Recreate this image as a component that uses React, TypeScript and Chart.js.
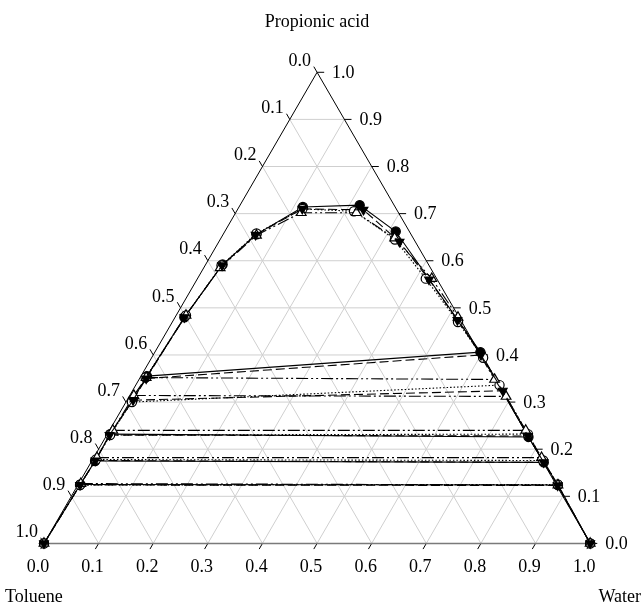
import React, { useEffect, useRef } from "react";
import { Chart, registerables } from "chart.js";
Chart.register(...registerables);

// ---- axis / grid values ----
const gridValues = [0.1, 0.2, 0.3, 0.4, 0.5, 0.6, 0.7, 0.8, 0.9];
const tickValues = [0, 0.1, 0.2, 0.3, 0.4, 0.5, 0.6, 0.7, 0.8, 0.9, 1.0];
const tickLabels = ["0.0", "0.1", "0.2", "0.3", "0.4", "0.5", "0.6", "0.7", "0.8", "0.9", "1.0"];
const topComponent = "Propionic acid";
const leftComponent = "Toluene";
const rightComponent = "Water";

// ---- series (mass fractions: water, propionic acid) ----
// Series A: filled circles, solid line
const seriesAWater = [0, 0.004, 0.006, 0.005, 0.010, 0.011, 0.017, 0.031, 0.061, 0.117, 0.219, 0.313, 0.596, 0.774, 0.829, 0.879, 1];
const seriesAAcid = [0, 0.125, 0.175, 0.232, 0.305, 0.355, 0.480, 0.592, 0.656, 0.714, 0.718, 0.662, 0.406, 0.226, 0.172, 0.124, 0];
const tieA = [[5, 12], [3, 13], [2, 14], [1, 15]];

// Series B: open circles, dotted line
const seriesBWater = [0, 0.004, 0.006, 0.006, 0.011, 0.010, 0.018, 0.030, 0.060, 0.118, 0.215, 0.320, 0.418, 0.523, 0.607, 0.666, 0.770, 0.826, 0.878, 1];
const seriesBAcid = [0, 0.124, 0.178, 0.230, 0.300, 0.352, 0.484, 0.590, 0.658, 0.710, 0.705, 0.645, 0.562, 0.470, 0.394, 0.336, 0.232, 0.176, 0.125, 0];
const tieB = [[4, 15], [3, 16], [2, 17], [1, 18]];

// Series C: open triangles, dash-dot-dot line
const seriesCWater = [0, 0.004, 0.006, 0.006, 0.0075, 0.011, 0.018, 0.030, 0.062, 0.120, 0.221, 0.318, 0.429, 0.518, 0.651, 0.690, 0.762, 0.820, 0.879, 1];
const seriesCAcid = [0, 0.127, 0.182, 0.240, 0.314, 0.352, 0.484, 0.585, 0.654, 0.702, 0.702, 0.648, 0.562, 0.480, 0.348, 0.312, 0.240, 0.182, 0.124, 0];
const tieC = [[5, 14], [4, 15], [3, 16], [2, 17], [1, 18]];

// Series D: filled down triangles, dashed line
const seriesDWater = [0, 0.004, 0.006, 0.005, 0.011, 0.012, 0.017, 0.031, 0.060, 0.118, 0.231, 0.331, 0.425, 0.520, 0.600, 0.678, 0.772, 0.829, 0.879, 1];
const seriesDAcid = [0, 0.124, 0.176, 0.230, 0.304, 0.350, 0.480, 0.590, 0.655, 0.710, 0.708, 0.640, 0.560, 0.474, 0.400, 0.324, 0.228, 0.172, 0.123, 0];
const tieD = [[5, 14], [4, 15], [3, 16], [2, 17], [1, 18]];

const toXY = (w: number, a: number) => ({ x: w + a / 2, y: a });

const FONT = '18px "Liberation Serif", "Times New Roman", serif';

export default function App() {
  const ref = useRef<HTMLCanvasElement | null>(null);

  useEffect(() => {
    document.body.style.margin = "0";
    const canvas = ref.current;
    if (!canvas) return;

    const datasets: any[] = [];
    const lineDs = (pts: { x: number; y: number }[], color: string, width: number, dash: number[], order: number) => ({
      data: pts,
      showLine: true,
      borderColor: color,
      borderWidth: width,
      borderDash: dash,
      pointRadius: 0,
      pointHoverRadius: 0,
      fill: false,
      order,
    });

    // grid lines
    const gridColor = "#cfcfcf";
    gridValues.forEach((v) => {
      datasets.push(lineDs([toXY(0, v), toXY(1 - v, v)], gridColor, 1, [], 40));
      datasets.push(lineDs([toXY(v, 0), toXY(v, 1 - v)], gridColor, 1, [], 40));
      datasets.push(lineDs([toXY(v, 0), toXY(0, v)], gridColor, 1, [], 40));
    });

    // triangle edges
    datasets.push(lineDs([toXY(0, 0), toXY(0, 1)], "#000", 1, [], 30));
    datasets.push(lineDs([toXY(1, 0), toXY(0, 1)], "#000", 1, [], 30));
    datasets.push(lineDs([toXY(0, 0), toXY(1, 0)], "#7a7a7a", 1.5, [], 30));

    // ticks
    const L = 0.012;
    tickValues.forEach((v) => {
      const pl = toXY(0, 1 - v);
      datasets.push(lineDs([pl, { x: pl.x - 0.5 * L, y: pl.y + L }], "#000", 1, [], 30));
      const pr = toXY(1 - v, v);
      datasets.push(lineDs([pr, { x: pr.x + 0.013, y: pr.y }], "#000", 1, [], 30));
      const pb = toXY(v, 0);
      datasets.push(lineDs([pb, { x: pb.x - 0.5 * L, y: pb.y - L }], "#000", 1, [], 30));
    });

    const series = [
      { w: seriesAWater, a: seriesAAcid, ties: tieA, dash: [], style: "circle", fillC: "#000", rot: 0, r: 4.6 },
      { w: seriesBWater, a: seriesBAcid, ties: tieB, dash: [1.5, 2], style: "circle", fillC: "#fff", rot: 0, r: 4.6 },
      { w: seriesCWater, a: seriesCAcid, ties: tieC, dash: [12, 3, 2, 3, 2, 3], style: "triangle", fillC: "#fff", rot: 0, r: 5.6 },
      { w: seriesDWater, a: seriesDAcid, ties: tieD, dash: [9, 4], style: "triangle", fillC: "#000", rot: 180, r: 5 },
    ];

    series.forEach((s) => {
      s.ties.forEach(([i, j]) => {
        datasets.push(lineDs([toXY(s.w[i], s.a[i]), toXY(s.w[j], s.a[j])], "#000", 1.1, s.dash, 20));
      });
    });
    series.forEach((s, si) => {
      datasets.push({
        data: s.w.map((w, k) => toXY(w, s.a[k])),
        showLine: true,
        borderColor: "#000",
        borderWidth: 1.1,
        borderDash: s.dash,
        pointStyle: s.style,
        pointRotation: s.rot,
        pointRadius: s.r,
        pointHoverRadius: s.r,
        pointBackgroundColor: s.fillC,
        pointBorderColor: "#000",
        pointBorderWidth: 1.2,
        fill: false,
        order: 10 - si,
      });
    });

    const labelsPlugin = {
      id: "ternaryLabels",
      afterDraw(chart: any) {
        const ctx = chart.ctx;
        const xs = chart.scales.x;
        const ys = chart.scales.y;
        const px = (p: { x: number; y: number }) => ({ x: xs.getPixelForValue(p.x), y: ys.getPixelForValue(p.y) });
        ctx.save();
        ctx.fillStyle = "#000";
        ctx.font = FONT;
        ctx.textBaseline = "middle";
        tickValues.forEach((v, i) => {
          const lab = tickLabels[i];
          const pl = px(toXY(0, 1 - v));
          ctx.textAlign = "right";
          ctx.fillText(lab, pl.x - 6, pl.y - 11);
          const pr = px(toXY(1 - v, v));
          ctx.textAlign = "left";
          ctx.fillText(lab, pr.x + 15, pr.y + 1);
          const pb = px(toXY(v, 0));
          ctx.textAlign = "center";
          ctx.fillText(lab, pb.x - 6, pb.y + 24);
        });
        const top = px(toXY(0, 1));
        ctx.textAlign = "center";
        ctx.fillText(topComponent, top.x, 22);
        ctx.textAlign = "left";
        ctx.fillText(leftComponent, 5, 597);
        ctx.textAlign = "right";
        ctx.fillText(rightComponent, 641, 597);
        ctx.restore();
      },
    };

    // pixel mapping: water axis X 0..1 -> 38..596 px; acid 0..1 -> 549..67 px
    const xPerUnit = 558;
    const xMin = -38 / xPerUnit;
    const xMax = xMin + 642 / xPerUnit;
    const yPerUnit = 482;
    const yMax = 549 / yPerUnit;
    const yMin = yMax - 603 / yPerUnit;

    const chart = new Chart(canvas, {
      type: "scatter",
      data: { datasets },
      options: {
        responsive: false,
        maintainAspectRatio: false,
        animation: false,
        devicePixelRatio: 1,
        layout: { padding: 0 },
        events: [],
        plugins: { legend: { display: false }, tooltip: { enabled: false } },
        scales: {
          x: { type: "linear", min: xMin, max: xMax, display: false },
          y: { type: "linear", min: yMin, max: yMax, display: false },
        },
      },
      plugins: [labelsPlugin],
    } as any);

    return () => chart.destroy();
  }, []);

  return (
    <div style={{ width: 642, height: 603, background: "#fff" }}>
      <canvas ref={ref} width={642} height={603} style={{ display: "block", width: 642, height: 603 }} />
    </div>
  );
}
